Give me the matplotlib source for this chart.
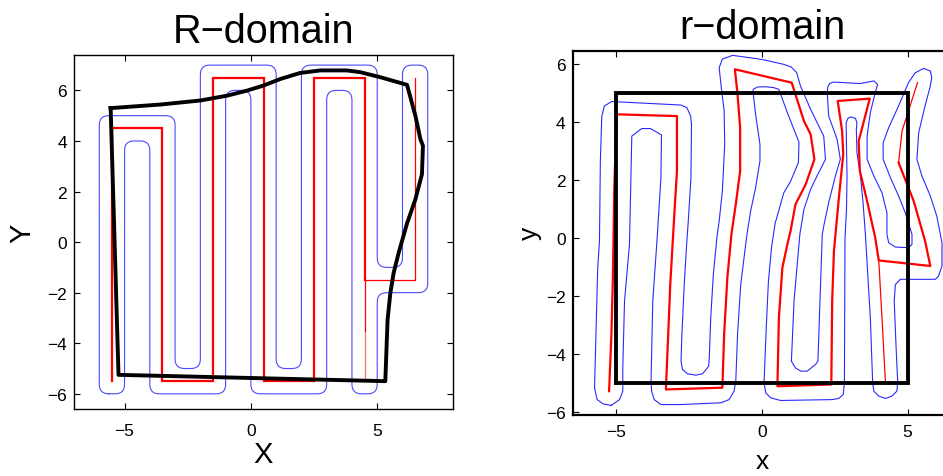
import numpy as np
import matplotlib
matplotlib.use("Agg")
import matplotlib.pyplot as plt

plt.rcParams['font.family'] = ['Liberation Sans', 'DejaVu Sans']

# ---------------- R-domain (physical domain) ----------------
# boundary of the mapped region
R_bnd_x = [-5.55, -3.59, -2.01, -0.95, -0.16, 0.50, 1.16, 1.95, 2.75, 3.80, 4.33, 5.13, 6.18,
           6.51, 6.71, 6.81, 6.77, 6.51, 6.18, 5.85, 5.65, 5.52, 5.41, 5.32, -5.24, -5.55]
R_bnd_y = [5.30, 5.44, 5.60, 5.79, 5.99, 6.19, 6.45, 6.69, 6.79, 6.79, 6.72, 6.52, 6.22,
           5.00, 4.07, 3.81, 2.68, 1.69, 0.74, -0.42, -1.22, -2.01, -3.07, -5.50, -5.25, 5.30]

# lawnmower path: main pass, return leg, and the trailing drop
R_path_x = [-5.5, -5.5, -3.5, -3.5, -1.5, -1.5, 0.5, 0.5, 2.5, 2.5, 4.5, 4.5]
R_path_y = [-5.5, 4.5, 4.5, -5.5, -5.5, 6.5, 6.5, -5.5, -5.5, 6.5, 6.5, -1.5]
R_tail_x = [4.5, 6.5, 6.5]
R_tail_y = [-1.5, -1.5, 6.5]
R_drop_x = [4.5, 4.5]
R_drop_y = [-1.5, -3.5]
R_fade_x = [4.5, 4.5]
R_fade_y = [-3.5, -5.5]

# swept-area outline (corner points, corners are rounded when drawn)
R_cov_x = [-6, -6, -3, -3, -2, -2, 1, 1, 2, 2, 5, 5, 6, 6, 7, 7, 5, 5, 4, 4, 3, 3, 0, 0, -1, -1, -4, -4, -5, -5]
R_cov_y = [-6, 5, 5, -5, -5, 7, 7, -5, -5, 7, 7, -1, -1, 7, 7, -2, -2, -6, -6, 6, 6, -6, -6, 6, 6, -6, -6, 4, 4, -6]

# ---------------- r-domain (reference square) ----------------
r_sq_x = [-5, 5, 5, -5, -5]
r_sq_y = [-5, -5, 5, 5, -5]

r_path_x = [-5.25, -5.17, -5.12, -5.09, -5.07, -4.99, -2.92, -2.92, -2.99, -3.07, -3.15, -3.22, -3.30,
            -1.36, -1.30, -1.19, -1.05, -0.90, -0.75, -0.75, -0.84, -0.93,
            1.02, 1.44, 1.67, 1.80, 1.50, 1.15, 0.98, 0.87, 0.70, 0.58, 0.53,
            2.38, 2.41, 2.47, 2.64, 2.79, 2.75, 2.60,
            3.70, 3.32, 3.36, 3.61, 3.89, 4.01, 5.78, 5.60, 5.21, 4.69]
r_path_y = [-5.27, -3.32, -1.37, 0.47, 1.73, 4.26, 4.20, 2.31, 1.16, -0.22, -1.60, -3.32, -5.21,
            -5.15, -3.32, -1.37, 0.13, 1.16, 2.31, 3.80, 4.95, 5.81,
            5.35, 4.03, 3.57, 2.71, 1.85, 1.16, 0.24, -0.22, -1.02, -2.74, -5.10,
            -5.04, -2.17, -0.45, 1.39, 2.88, 3.69, 4.72,
            4.80, 3.34, 2.31, 1.27, 0.00, -0.77, -0.96, -0.10, 1.27, 2.60]
r_tail_x = [4.69, 4.81, 5.34]
r_tail_y = [2.60, 3.69, 5.35]
r_drop_x = [4.01, 4.12, 4.24]
r_drop_y = [-0.77, -2.74, -5.00]

r_cov_x = [-5.18, -5.45, -5.66, -5.75, -5.70, -5.64, -5.58, -5.55, -5.50, -5.41, -5.16,
           -2.78, -2.58, -2.45,
           -2.42, -2.44, -2.53, -2.58, -2.67, -2.75, -2.78, -2.73, -2.56,
           -2.27, -2.04, -1.83,
           -1.81, -1.76, -1.67, -1.55, -1.47, -1.36, -1.28, -1.30, -1.41, -1.47, -1.36, -1.01,
           0.00, 0.75, 1.00, 1.19, 1.27,
           1.32, 1.67, 2.12, 2.18, 1.89, 1.67, 1.44, 1.30, 1.10, 1.01, 1.15,
           1.33, 1.55, 1.84, 1.92,
           1.99, 2.07, 2.12, 2.29, 2.52, 2.69, 2.58, 2.29, 2.24, 2.26, 2.32, 2.45,
           3.38, 3.84, 3.97,
           3.89, 3.72, 3.61, 3.61, 3.84, 4.12, 4.29, 4.29, 4.35, 4.58, 5.03, 5.15, 5.15,
           4.92, 4.69, 4.41, 4.16, 4.16, 4.35, 4.69, 5.03, 5.26, 5.55, 5.78, 5.83,
           5.78, 5.60, 5.38, 5.32, 5.49, 5.78, 6.00, 6.18, 6.18, 6.06, 5.95, 4.75, 4.58, 4.54,
           4.61, 4.66, 4.63, 4.46, 4.24, 4.01, 3.84, 3.80,
           3.72, 3.55, 3.47, 3.38, 3.26, 3.24, 3.26,
           3.21, 3.06, 2.95, 2.89,
           2.90, 2.92, 2.90, 2.85, 2.84, 2.83,
           2.79, 2.64, 2.41, 0.64, 0.30, 0.13, 0.07,
           0.15, 0.22, 0.33, 0.45, 0.75, 0.98, 1.25, 1.27, 0.87, 0.64,
           0.58, 0.40, 0.13, -0.16, -0.30,
           -0.31, -0.22, -0.07, -0.07, -0.22, -0.39, -0.50, -0.56, -0.73, -0.84, -0.90, -0.96,
           -1.13, -1.41, -2.78, -3.47, -3.70, -3.79, -3.81,
           -3.75, -3.60, -3.47, -3.45,
           -3.83, -4.13, -4.47,
           -4.50, -4.55, -4.72, -4.78, -4.78, -4.89, -5.18]
r_cov_y = [-5.76, -5.71, -5.56, -5.16, -3.32, -1.02, -0.10, 2.65, 4.20, 4.55, 4.70,
           4.58, 4.49, 4.20,
           3.91, 2.08, 0.59, -0.10, -1.60, -3.32, -4.24, -4.52, -4.67,
           -4.72, -4.67, -4.41,
           -4.12, -2.74, -1.25, 0.00, 0.59, 1.62, 3.23, 4.38, 5.29, 5.87, 6.16, 6.29,
           6.15, 5.98, 5.89, 5.70, 5.41,
           5.24, 4.43, 3.51, 2.71, 2.14, 1.68, 0.99, 0.13, -2.17, -4.24, -4.47,
           -4.58, -4.58, -4.35, -4.24,
           -2.17, 0.13, 0.41, 1.22, 2.14, 2.71, 3.40, 4.20, 5.01, 5.20, 5.32, 5.37,
           5.32, 5.41, 5.29,
           5.01, 4.32, 3.51, 2.71, 2.14, 1.56, 0.87, 0.13, -0.16, -0.31, -0.33, -0.22, 0.13,
           0.87, 1.45, 2.08, 2.71, 3.28, 3.80, 4.55, 5.35, 5.69, 5.84, 5.75, 5.52,
           5.24, 4.55, 3.63, 2.71, 2.14, 1.45, 0.76, -0.16, -0.96, -1.31, -1.42, -1.42, -1.60, -2.17,
           -3.89, -4.98, -5.27, -5.44, -5.52, -5.44, -5.27, -4.98,
           -2.74, 0.13, 1.22, 2.14, 2.94, 3.74, 3.97,
           4.12, 4.17, 4.12, 3.97,
           3.23, 2.08, 0.93, 0.00, -2.50, -4.98,
           -5.38, -5.52, -5.56, -5.59, -5.50, -5.33, -4.98,
           -3.00, -1.50, -0.30, 0.50, 1.56, 1.95, 2.60, 3.30, 4.32, 4.95,
           5.12, 5.18, 5.21, 5.20, 5.12,
           5.06, 4.26, 3.23, 2.65, 1.73, 0.93, 0.24, -0.22, -1.60, -3.32, -4.93, -5.27,
           -5.56, -5.67, -5.73, -5.73, -5.56, -5.27, -4.93,
           -2.17, 0.00, 2.08, 3.55,
           3.77, 3.77, 3.51,
           2.08, -0.22, -2.17, -4.47, -5.27, -5.56, -5.76]

x_ticks = [-5, 0, 5]
y_ticks = [-6, -4, -2, 0, 2, 4, 6]


def rounded_outline(xs, ys, r=0.38, n=9):
    """Closed polygon with every corner replaced by a quadratic Bezier fillet."""
    pts = np.column_stack([xs, ys]).astype(float)
    m = len(pts)
    t = np.linspace(0.0, 1.0, n)[:, None]
    segs = []
    for i in range(m):
        a, b, c = pts[i - 1], pts[i], pts[(i + 1) % m]
        u = (a - b) / np.linalg.norm(a - b)
        v = (c - b) / np.linalg.norm(c - b)
        p0, p1 = b + r * u, b + r * v
        segs.append((1 - t) ** 2 * p0 + 2 * (1 - t) * t * b + t ** 2 * p1)
    out = np.vstack(segs)
    out = np.vstack([out, out[:1]])
    return out[:, 0], out[:, 1]


fig = plt.figure(figsize=(9.43, 4.77), dpi=100)
axL = fig.add_axes([0.0785, 0.1405, 0.4019, 0.7421])
axR = fig.add_axes([0.6073, 0.1285, 0.4015, 0.7631])

blue = '#2a2aff'
red = '#ff0000'

# left panel
cx, cy = rounded_outline(R_cov_x, R_cov_y)
axL.plot(cx, cy, color=blue, lw=0.8, alpha=0.85)
axL.plot(R_path_x, R_path_y, color=red, lw=1.6, solid_joinstyle='miter')
axL.plot(R_tail_x, R_tail_y, color=red, lw=0.9)
axL.plot(R_drop_x, R_drop_y, color=red, lw=0.9)
axL.plot(R_fade_x, R_fade_y, color=red, lw=0.9, alpha=0.55)
axL.plot(R_bnd_x, R_bnd_y, color='black', lw=2.8, solid_joinstyle='round')
axL.set_xlim(-7, 8)
axL.set_ylim(-6.6, 7.4)

# right panel
axR.plot(r_cov_x, r_cov_y, color=blue, lw=0.8)
axR.plot(r_path_x, r_path_y, color=red, lw=1.6)
axR.plot(r_tail_x, r_tail_y, color=red, lw=0.9)
axR.plot(r_drop_x, r_drop_y, color=red, lw=0.9)
axR.plot(r_sq_x, r_sq_y, color='black', lw=2.8, solid_joinstyle='miter')
axR.set_xlim(-6.5, 6.5)
axR.set_ylim(-6.08, 6.45)

for ax, sw, xpad in ((axL, 1.0, 10), (axR, 1.6, 7)):
    ax.set_xticks(x_ticks)
    ax.set_yticks(y_ticks)
    ax.tick_params(direction='in', top=True, right=True, length=4, width=0.8,
                   labelsize=12.5)
    ax.tick_params(axis='x', pad=xpad)
    ax.tick_params(axis='y', pad=5)
    for s in ax.spines.values():
        s.set_linewidth(sw)

axL.set_title('R\u2212domain', fontsize=28.5, pad=9)
axR.set_title('r\u2212domain', fontsize=28.5, pad=9)

axL.set_xlabel('X', fontsize=21)
axL.set_ylabel('Y', fontsize=21)
axL.xaxis.set_label_coords(0.5, -0.127)
axL.yaxis.set_label_coords(-0.137, 0.5)
axL.xaxis.label.set_va('center')
axL.yaxis.label.set_va('center')

axR.set_xlabel('x', fontsize=19)
axR.set_ylabel('y', fontsize=19)
axR.xaxis.set_label_coords(0.5, -0.127)
axR.yaxis.set_label_coords(-0.113, 0.5)
axR.xaxis.label.set_va('center')
axR.yaxis.label.set_va('center')

fig.savefig('out.png', dpi=100)
